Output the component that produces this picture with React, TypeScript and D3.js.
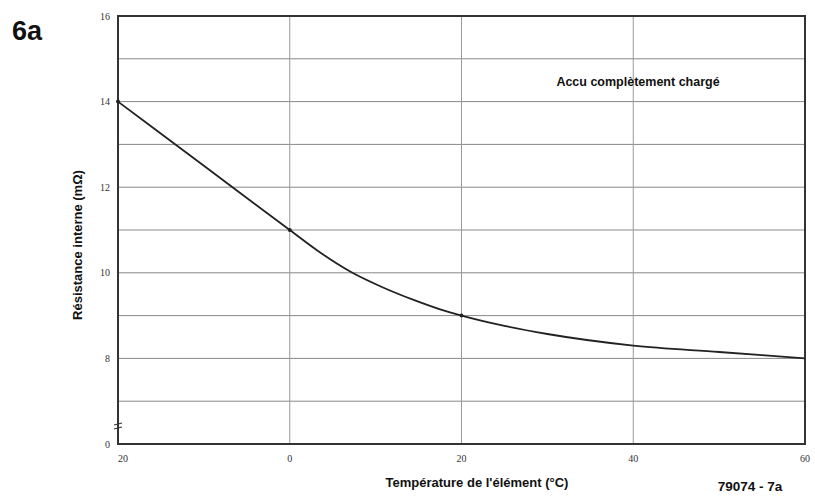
import React from "react";
import * as d3 from "d3";

const tempC = [-20, -10, 0, 3.5, 7.3, 10.6, 14.5, 17.6, 20, 25, 30, 40, 50, 60];
const resistance = [14, 12.5, 11, 10.48, 10.0, 9.68, 9.36, 9.14, 9.0, 8.76, 8.57, 8.3, 8.15, 8.0];
const xTicks = [-20, 0, 20, 40, 60];
const xTickLabels = ["20", "0", "20", "40", "60"];
const yTicks = [8, 10, 12, 14, 16];
const yGrid = [7, 8, 9, 10, 11, 12, 13, 14, 15];
const markedPoints = [-20, 0, 20];

export default function App() {
  const W = 815, H = 502;
  const x = d3.scaleLinear().domain([-20, 60]).range([118, 805]);
  const y = d3.scaleLinear().domain([6, 16]).range([444, 16]);
  const data = tempC.map((t, i) => [t, resistance[i]] as [number, number]);
  const line = d3.line<[number, number]>().x(d => x(d[0])).y(d => y(d[1])).curve(d3.curveMonotoneX);
  const serif = "'Liberation Serif', 'DejaVu Serif', serif";
  const sans = "'Liberation Sans', Arial, sans-serif";
  return (
    <svg width={W} height={H} style={{ position: "absolute", left: 0, top: 0, background: "#fff" }}>
      <rect width={W} height={H} fill="#fff" />
      <text x={12} y={40} fontFamily={sans} fontWeight="bold" fontSize={27} fill="#111">6a</text>
      {yGrid.map(v => (
        <line key={"h" + v} x1={x(-20)} x2={x(60)} y1={y(v)} y2={y(v)} stroke="#888" strokeWidth={1} />
      ))}
      {xTicks.slice(1, -1).map(v => (
        <line key={"v" + v} x1={x(v)} x2={x(v)} y1={y(16)} y2={y(6)} stroke="#999" strokeWidth={1} />
      ))}
      <rect x={x(-20)} y={y(16)} width={x(60) - x(-20)} height={y(6) - y(16)} fill="none" stroke="#333" strokeWidth={2} />
      {/* axis break marker */}
      <line x1={x(-20) - 4} x2={x(-20) + 4} y1={y(6) - 19} y2={y(6) - 21} stroke="#333" strokeWidth={1.2} />
      <line x1={x(-20) - 4} x2={x(-20) + 4} y1={y(6) - 15} y2={y(6) - 17} stroke="#333" strokeWidth={1.2} />
      <path d={line(data) ?? ""} fill="none" stroke="#222" strokeWidth={1.8} />
      {markedPoints.map(t => {
        const i = tempC.indexOf(t);
        return <circle key={"p" + t} cx={x(t)} cy={y(resistance[i])} r={2} fill="#222" />;
      })}
      {yTicks.map(v => (
        <text key={"yl" + v} x={x(-20) - 8} y={y(v) + 3.5} textAnchor="end" fontFamily={serif} fontSize={10} fill="#333">{v}</text>
      ))}
      <text x={x(-20) - 8} y={y(6) + 3.5} textAnchor="end" fontFamily={serif} fontSize={10} fill="#333">0</text>
      {xTicks.map((v, i) => (
        <text key={"xl" + v} x={x(v) + (i === 0 ? 5 : 0)} y={462} textAnchor="middle" fontFamily={serif} fontSize={10} fill="#333">{xTickLabels[i]}</text>
      ))}
      <text x={477} y={487} textAnchor="middle" fontFamily={sans} fontWeight="bold" fontSize={13} fill="#111">Température de l'élément (°C)</text>
      <text x={750} y={491} textAnchor="middle" fontFamily={sans} fontWeight="bold" fontSize={13.5} fill="#111">79074 - 7a</text>
      <text transform={`translate(82,245) rotate(-90)`} textAnchor="middle" fontFamily={sans} fontWeight="bold" fontSize={13} fill="#111">Résistance interne (mΩ)</text>
      <text x={638} y={86} textAnchor="middle" fontFamily={sans} fontWeight="bold" fontSize={12.5} fill="#111">Accu complètement chargé</text>
    </svg>
  );
}
